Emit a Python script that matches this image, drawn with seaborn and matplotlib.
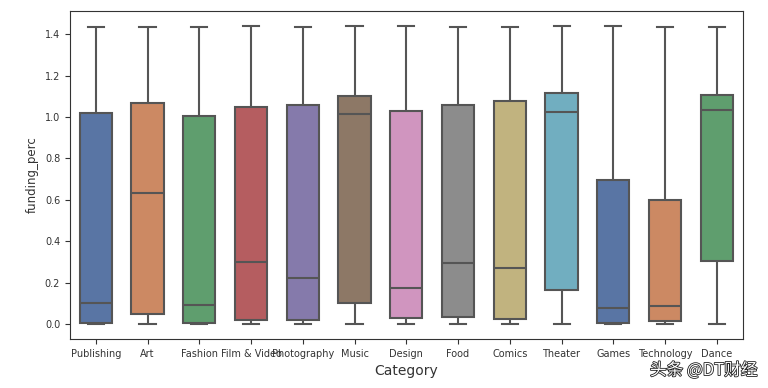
import pandas as pd
import matplotlib.pyplot as plt
import matplotlib.patheffects as pe
import seaborn as sns

# Box statistics (min, q1, median, q3, max per category)
categories = ['Publishing', 'Art', 'Fashion', 'Film & Video', 'Photography', 'Music',
              'Design', 'Food', 'Comics', 'Theater', 'Games', 'Technology', 'Dance']
mins = [0.0, 0.0, 0.0, 0.0, 0.0, 0.0, 0.0, 0.0, 0.0, 0.0, 0.0, 0.0, 0.0]
q1s = [0.008, 0.048, 0.008, 0.019, 0.019, 0.10, 0.032, 0.037, 0.024, 0.164, 0.006, 0.013, 0.307]
medians = [0.101, 0.631, 0.092, 0.299, 0.225, 1.014, 0.177, 0.293, 0.270, 1.022, 0.079, 0.090, 1.035]
q3s = [1.019, 1.067, 1.003, 1.049, 1.057, 1.101, 1.027, 1.056, 1.078, 1.114, 0.698, 0.600, 1.106]
maxs = [1.435, 1.435, 1.435, 1.44, 1.435, 1.44, 1.44, 1.435, 1.435, 1.44, 1.44, 1.435, 1.435]

# Five points per category reproduce the quartiles exactly with linear percentiles
rows = []
for i, cat in enumerate(categories):
    for v in (mins[i], q1s[i], medians[i], q3s[i], maxs[i]):
        rows.append({'Category': cat, 'funding_perc': v})
df = pd.DataFrame(rows)

fig, ax = plt.subplots(figsize=(7.68, 3.88), dpi=100)
fig.subplots_adjust(left=0.091, right=0.967, top=0.972, bottom=0.126)

sns.boxplot(data=df, x='Category', y='funding_perc', hue='Category', palette='deep',
            order=categories, width=0.62, whis=(0, 100), legend=False, ax=ax,
            linewidth=1.5, linecolor='#555555')

ax.set_yticks([0.0, 0.2, 0.4, 0.6, 0.8, 1.0, 1.2, 1.4])
ax.tick_params(axis='both', labelsize=7, colors='#333333', labelcolor='#333333')
ax.set_xlabel('Category', fontsize=10, color='#333333')
ax.set_ylabel('funding_perc', fontsize=8.5, color='#333333')
for s in ax.spines.values():
    s.set_color('#333333')

fig.text(0.986, 0.045, '头条 @DT财经', ha='right', va='center', fontsize=12,
         family=['Noto Sans CJK SC', 'DejaVu Sans'], color='white',
         path_effects=[pe.withStroke(linewidth=1.2, foreground='#222222')])

plt.savefig('out.png', dpi=100)
